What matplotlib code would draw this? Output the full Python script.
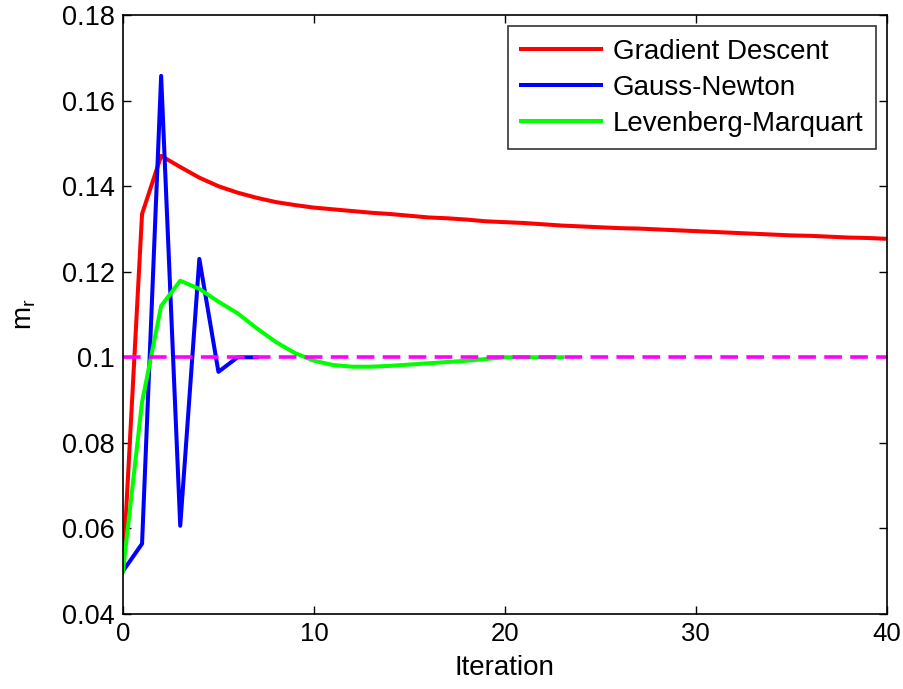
import matplotlib.pyplot as plt
import numpy as np

plt.rcParams['font.family'] = ['Liberation Sans', 'DejaVu Sans']
plt.rcParams['lines.scale_dashes'] = False

# Data
gd_vals = [0.050, 0.1335, 0.1471, 0.1445, 0.1420, 0.1400, 0.1385, 0.1373, 0.1363,
           0.1356, 0.1350, 0.1346, 0.1342, 0.1338, 0.1335, 0.1331, 0.1327, 0.1325,
           0.1322, 0.1318, 0.1316, 0.1314, 0.1311, 0.1308, 0.1306, 0.1304, 0.1302,
           0.1301, 0.1299, 0.1297, 0.1295, 0.1293, 0.1291, 0.1289, 0.1287, 0.1285,
           0.1284, 0.1282, 0.1280, 0.1279, 0.1277]
gn_vals = [0.050, 0.0564, 0.1658, 0.0606, 0.1230, 0.0966, 0.1000, 0.1000]
lm_vals = [0.050, 0.0895, 0.1120, 0.1179, 0.1160, 0.1130, 0.1103, 0.1068, 0.1036,
           0.1010, 0.0992, 0.0982, 0.0978, 0.0978, 0.0980, 0.0983, 0.0986, 0.0989,
           0.0992, 0.0996, 0.1000, 0.1000, 0.1000, 0.1000]
true_val = 0.1
x_range = [0, 40]

fig = plt.figure(figsize=(9.04, 6.89), dpi=100)
ax = fig.add_axes([0.136, 0.109, 0.845, 0.869])

lw = 2.9
ax.plot(np.arange(len(gd_vals)), gd_vals, color='#ff0000', lw=lw, label='Gradient Descent')
ax.plot(np.arange(len(gn_vals)), gn_vals, color='#0000ff', lw=lw, label='Gauss-Newton')
ax.plot(np.arange(len(lm_vals)), lm_vals, color='#00ff00', lw=lw, label='Levenberg-Marquart')
ax.plot(x_range, [true_val, true_val], color='#ff00ff', lw=2.6, dashes=(12.7, 6))

ax.set_xlim(0, 40)
ax.set_ylim(0.04, 0.18)
ax.set_xticks([0, 10, 20, 30, 40])
ax.set_yticks([0.04, 0.06, 0.08, 0.1, 0.12, 0.14, 0.16, 0.18])
ax.set_yticklabels(['0.04', '0.06', '0.08', '0.1', '0.12', '0.14', '0.16', '0.18'])
ax.tick_params(direction='in', top=True, right=True, length=6, width=1, pad=6)
ax.tick_params(axis='x', labelsize=18.5)
ax.tick_params(axis='y', labelsize=19.5)
for s in ax.spines.values():
    s.set_linewidth(1.2)

ax.set_xlabel('Iteration', fontsize=20, labelpad=6)
ax.set_ylabel('m$_\\mathregular{r}$', fontsize=20, labelpad=17)

leg = ax.legend(loc='upper right', fontsize=20, handlelength=2.9, frameon=True,
                fancybox=False, edgecolor='black', borderaxespad=0.4,
                labelspacing=0.36, handletextpad=0.4, borderpad=0.45)
leg.get_frame().set_linewidth(1.2)

plt.savefig('out.png', dpi=100)
